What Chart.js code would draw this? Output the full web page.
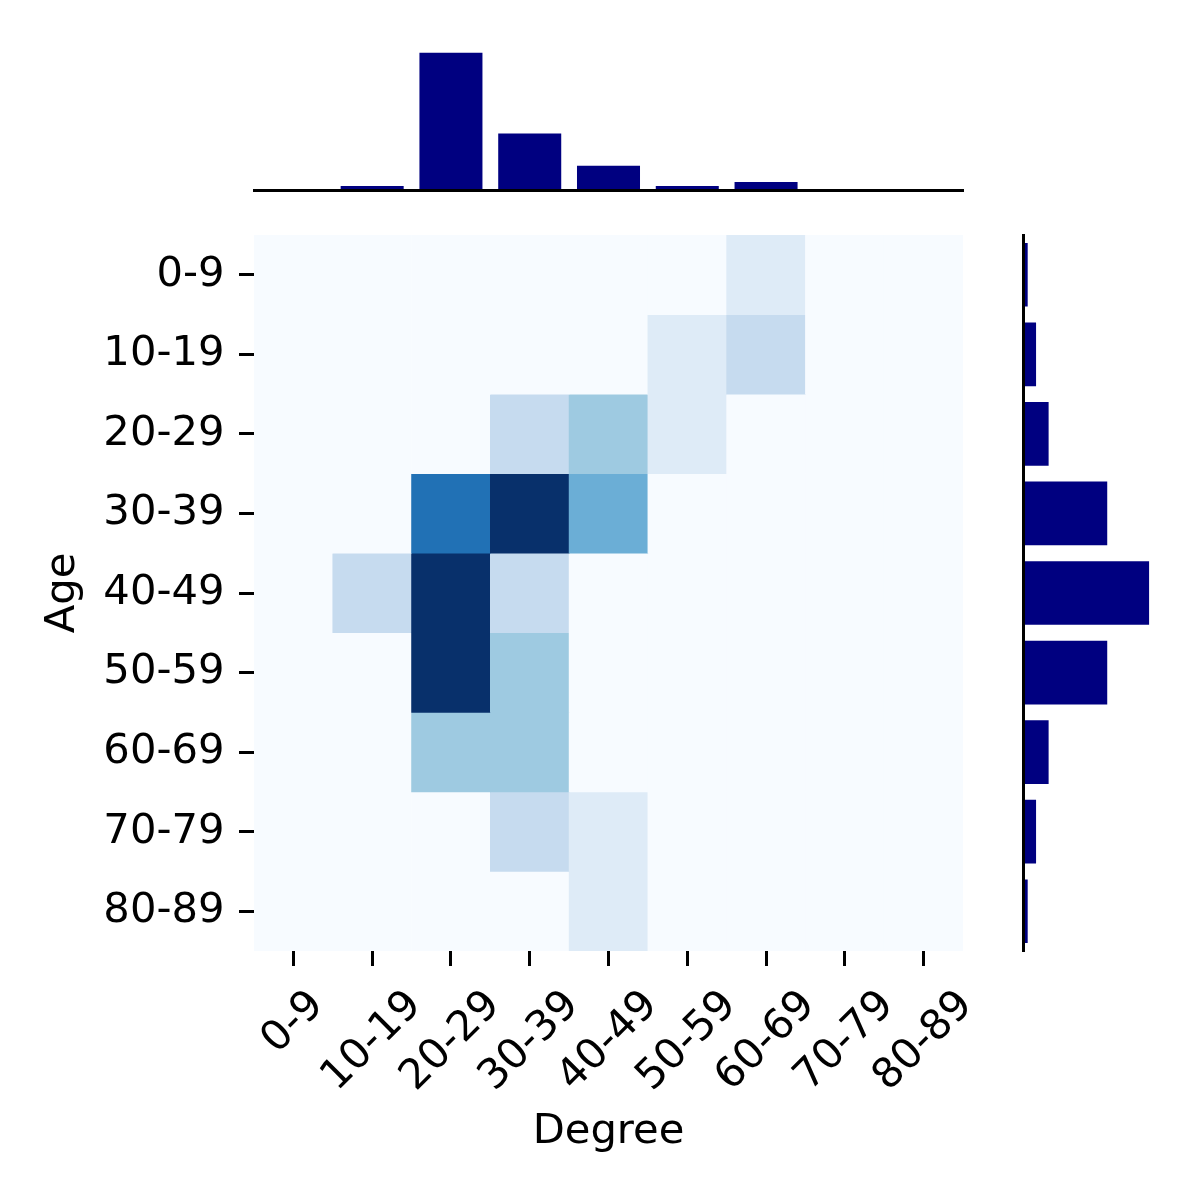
<!DOCTYPE html>
<html>
<head>
<meta charset="utf-8">
<script src="https://cdn.jsdelivr.net/npm/chart.js@4.4.1/dist/chart.umd.min.js"></script>
<style>
  body { margin: 0; background: #fff; }
  #wrap { position: relative; width: 1200px; height: 1200px; }
  canvas { position: absolute; }
</style>
</head>
<body>
<div id="wrap">
  <canvas id="joint" width="1000" height="1200" style="left:0;top:0"></canvas>
  <canvas id="margTop" width="1000" height="230" style="left:0;top:0"></canvas>
  <canvas id="margRight" width="200" height="1200" style="left:1000px;top:0"></canvas>
</div>
<script>
// data
const ageLabels = ["0-9", "10-19", "20-29", "30-39", "40-49", "50-59", "60-69", "70-79", "80-89"];
const degreeLabels = ["0-9", "10-19", "20-29", "30-39", "40-49", "50-59", "60-69", "70-79", "80-89"];

// heatmap counts, one row per age group, columns = degree groups
const counts = [
  [0, 0, 0, 0, 0, 0, 1, 0, 0],
  [0, 0, 0, 0, 0, 1, 2, 0, 0],
  [0, 0, 0, 2, 3, 1, 0, 0, 0],
  [0, 0, 6, 8, 4, 0, 0, 0, 0],
  [0, 2, 8, 2, 0, 0, 0, 0, 0],
  [0, 0, 8, 3, 0, 0, 0, 0, 0],
  [0, 0, 3, 3, 0, 0, 0, 0, 0],
  [0, 0, 0, 2, 1, 0, 0, 0, 0],
  [0, 0, 0, 0, 1, 0, 0, 0, 0]
];
const vmax = 8;

// marginal bars
const degreeTotals = [0, 1, 34, 14, 6, 1, 2, 0, 0];
const ageTotals = [1, 3, 6, 20, 30, 20, 6, 3, 1];

const fs = 41.7;
const navy = "#000080";
Chart.defaults.font.family = "'DejaVu Sans', sans-serif";
Chart.defaults.font.size = fs;
Chart.defaults.color = "#000";

// matplotlib "Blues"
const BLUES = ["#f7fbff", "#deebf7", "#c6dbef", "#9ecae1", "#6baed6", "#4292c6", "#2171b5", "#08519c", "#08306b"];
function hex2rgb(h) {
  return [1, 3, 5].map(i => parseInt(h.substr(i, 2), 16));
}
function blues(t) {
  t = Math.max(0, Math.min(1, t));
  const p = t * (BLUES.length - 1);
  const i = Math.min(Math.floor(p), BLUES.length - 2);
  const f = p - i;
  const a = hex2rgb(BLUES[i]), b = hex2rgb(BLUES[i + 1]);
  const c = a.map((v, k) => Math.round(v + (b[k] - v) * f));
  return `rgb(${c[0]},${c[1]},${c[2]})`;
}

const noPlugins = { legend: { display: false }, tooltip: { enabled: false } };
const tickGrid = { display: true, drawOnChartArea: false, drawTicks: true, tickLength: 15, tickWidth: 3, tickColor: "#000", offset: false };

// rotated x labels, box centred under the tick like matplotlib
const xTickLabels = {
  id: "xTickLabels",
  afterDraw(chart) {
    const ctx = chart.ctx, sx = chart.scales.x;
    const top = chart.chartArea.bottom + 33;
    const a = 0.76 * fs, d = 0.24 * fs, k = Math.SQRT1_2;
    ctx.save();
    ctx.font = `${fs}px 'DejaVu Sans', sans-serif`;
    ctx.fillStyle = "#000";
    ctx.textAlign = "left";
    ctx.textBaseline = "alphabetic";
    degreeLabels.forEach((lab, i) => {
      const w = ctx.measureText(lab).width;
      const cx = sx.getPixelForValue(i);
      const ox = cx - k * (w + d - a) / 2;
      const oy = top + k * (w + a);
      ctx.save();
      ctx.translate(ox, oy);
      ctx.rotate(-Math.PI / 4);
      ctx.fillText(lab, 0, 0);
      ctx.restore();
    });
    ctx.restore();
  }
};

// joint heatmap: one stacked dataset per age row
const rows = ageLabels.map((age, r) => ({
  label: age,
  data: degreeLabels.map(() => 1),
  backgroundColor: counts[r].map(v => blues(v / vmax)),
  borderWidth: 0,
  barPercentage: 1,
  categoryPercentage: 1
}));

new Chart(document.getElementById("joint"), {
  type: "bar",
  data: { labels: degreeLabels, datasets: rows },
  options: {
    responsive: false,
    animation: false,
    layout: { padding: { left: 0, top: 235, right: 37, bottom: 0 } },
    plugins: noPlugins,
    scales: {
      x: {
        stacked: true,
        grid: tickGrid,
        border: { display: false },
        ticks: { display: false },
        title: { display: true, text: "Degree", color: "#000", font: { size: fs }, padding: { top: 0, bottom: 43 } },
        afterFit: s => { s.height = 249; }
      },
      y: {
        stacked: true,
        min: 0,
        max: 9,
        reverse: true,
        grid: tickGrid,
        border: { display: false },
        ticks: { color: "#000", padding: 14.5, autoSkip: false, callback: v => ageLabels[Math.floor(v)] },
        afterBuildTicks: s => { s.ticks = ageLabels.map((_, i) => ({ value: i + 0.5 })); },
        title: { display: true, text: "Age", color: "#000", font: { size: fs }, padding: { top: 38, bottom: 0 } },
        afterFit: s => { s.width = 254; }
      }
    }
  },
  plugins: [xTickLabels]
});

// top marginal (degree)
new Chart(document.getElementById("margTop"), {
  type: "bar",
  data: {
    labels: degreeLabels,
    datasets: [{ data: degreeTotals, backgroundColor: navy, barPercentage: 0.8, categoryPercentage: 1 }]
  },
  options: {
    responsive: false,
    animation: false,
    layout: { padding: { left: 254, right: 37, top: 48, bottom: 40 } },
    plugins: noPlugins,
    scales: {
      x: {
        grid: { display: false, drawTicks: false },
        ticks: { display: false },
        border: { display: true, color: "#000", width: 3, z: 1 },
        afterFit: s => { s.height = 0; }
      },
      y: { display: false, min: 0, max: 35.2 }
    }
  }
});

// right marginal (age)
new Chart(document.getElementById("margRight"), {
  type: "bar",
  data: {
    labels: ageLabels,
    datasets: [{ data: ageTotals, backgroundColor: navy, barPercentage: 0.8, categoryPercentage: 1 }]
  },
  options: {
    indexAxis: "y",
    responsive: false,
    animation: false,
    layout: { padding: { left: 23.5, right: 35, top: 235, bottom: 249 } },
    plugins: noPlugins,
    scales: {
      y: {
        grid: { display: false, drawTicks: false },
        ticks: { display: false },
        border: { display: true, color: "#000", width: 3, z: 1 },
        afterFit: s => { s.width = 0; }
      },
      x: { display: false, min: 0, max: 33.8 }
    }
  }
});
</script>
</body>
</html>
